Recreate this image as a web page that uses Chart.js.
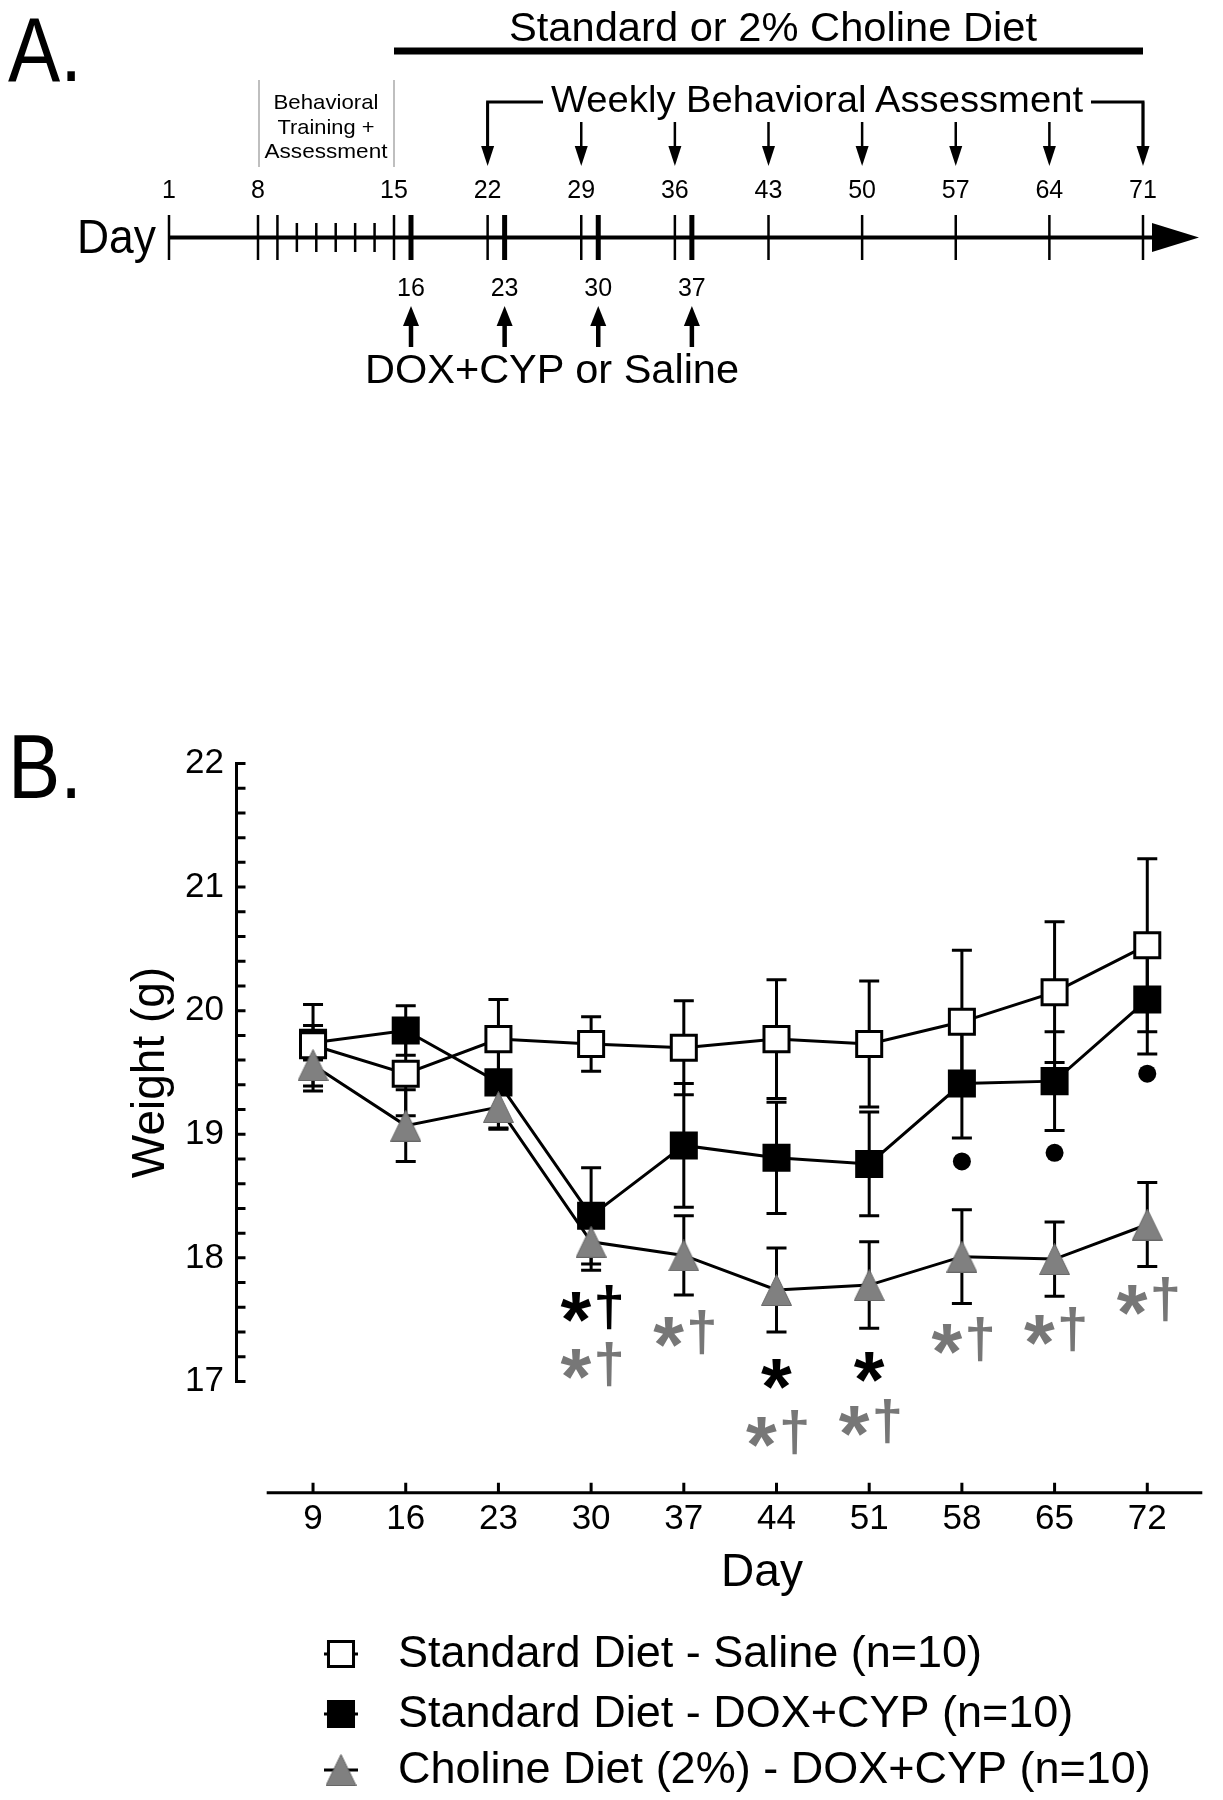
<!DOCTYPE html>
<html>
<head>
<meta charset="utf-8">
<title>Body weight</title>
<script src="https://cdn.jsdelivr.net/npm/chart.js@4.4.0/dist/chart.umd.min.js"></script>
<style>
  html, body { margin: 0; padding: 0; background: #fff; }
  #wrap { position: relative; width: 1223px; height: 1800px; }
  #chart { position: absolute; left: 0; top: 0; }
  #panelA { position: absolute; left: 0; top: 0; pointer-events: none; }
</style>
</head>
<body>
<div id="wrap">
  <canvas id="chart" width="1223" height="1800"></canvas>
  <svg id="panelA" width="1223" height="820" xmlns="http://www.w3.org/2000/svg"></svg>
</div>
<script>
// ---- panel B data ----
var days = [9, 16, 23, 30, 37, 44, 51, 58, 65, 72];
var salineMean = [19.72, 19.49, 19.77, 19.73, 19.70, 19.77, 19.73, 19.91, 20.15, 20.53];
var salineSem  = [0.33, 0.34, 0.32, 0.22, 0.38, 0.48, 0.51, 0.58, 0.57, 0.70];
var doxMean = [19.74, 19.84, 19.42, 18.34, 18.91, 18.81, 18.76, 19.41, 19.43, 20.09];
var doxSem  = [0.14, 0.20, 0.38, 0.39, 0.50, 0.45, 0.42, 0.44, 0.40, 0.44];
var cholMean = [19.56, 19.07, 19.22, 18.13, 18.02, 17.74, 17.78, 18.01, 17.99, 18.27];
var cholSem  = [0.21, 0.29, 0.17, 0.23, 0.32, 0.34, 0.35, 0.38, 0.30, 0.34];

var dotDays = [58, 65, 72];
var dotWeights = [18.78, 18.85, 19.49];

var starDays = [30, 30, 37, 44, 44, 51, 51, 58, 65, 72];
var starWeights = [17.60, 17.14, 17.40, 17.06, 16.59, 17.12, 16.68, 17.34, 17.42, 17.66];
var starMarks = ['*†', '*†', '*†', '*', '*†', '*', '*†', '*†', '*†', '*†'];
var starGroup = ['dox', 'chol', 'chol', 'dox', 'chol', 'dox', 'chol', 'chol', 'chol', 'chol'];

var yTicks = [17, 18, 19, 20, 21, 22];
var seriesLabels = ['Standard Diet - Saline (n=10)', 'Standard Diet - DOX+CYP (n=10)', 'Choline Diet (2%) - DOX+CYP (n=10)'];

// ---- panel A data (timeline) ----
var labeledDays = [1, 8, 15, 22, 29, 36, 43, 50, 57, 64, 71];
var tallTickDays = [1, 8, 9, 15, 22, 29, 36, 43, 50, 57, 64, 71];
var trainingDays = [10, 11, 12, 13, 14];
var injectionDays = [16, 23, 30, 37];
var assessDays = [22, 29, 36, 43, 50, 57, 64, 71];

var FONT = "'Liberation Sans', Arial, Helvetica, sans-serif";
var NARROW = "'Liberation Sans Narrow', 'Arial Narrow', 'Liberation Sans', Arial, sans-serif";
var GREY = '#808080';
var STAR_GREY = '#777777';

// ---------------- panel A (schematic) ----------------
var NS = 'http://www.w3.org/2000/svg';
var svg = document.getElementById('panelA');
function add(tag, attrs, text) {
  var e = document.createElementNS(NS, tag);
  for (var k in attrs) e.setAttribute(k, attrs[k]);
  if (text != null) e.textContent = text;
  svg.appendChild(e);
  return e;
}
function seg(x1, y1, x2, y2, w, c) {
  add('line', {x1: x1, y1: y1, x2: x2, y2: y2, stroke: c || '#000', 'stroke-width': w});
}
function txt(s, x, y, size, opts) {
  var a = {x: x, y: y, 'font-family': NARROW, 'font-size': size, fill: '#000'};
  for (var k in (opts || {})) a[k] = opts[k];
  return add('text', a, s);
}
// piecewise day -> x mapping of the schematic axis
var knotDays = [1, 8, 15, 71], knotPx = [169, 258, 394, 1143];
function dayX(d) {
  for (var i = 0; i < knotDays.length - 1; i++) {
    if (d <= knotDays[i + 1]) {
      return knotPx[i] + (d - knotDays[i]) * (knotPx[i + 1] - knotPx[i]) / (knotDays[i + 1] - knotDays[i]);
    }
  }
  return knotPx[knotPx.length - 1];
}
function injX(d) { return dayX(d - 1) + 17; }

txt('A.', 8, 81, 90, {textLength: 74, lengthAdjust: 'spacingAndGlyphs'});
txt('Standard or 2% Choline Diet', 509, 41, 41, {textLength: 528, lengthAdjust: 'spacingAndGlyphs'});
add('rect', {x: dayX(15), y: 47.5, width: dayX(71) - dayX(15), height: 7, fill: '#000'});

// training box
seg(dayX(8) + 1, 80, dayX(8) + 1, 167, 1.5, '#aaa');
seg(dayX(15), 80, dayX(15), 167, 1.5, '#aaa');
var boxC = (dayX(8) + dayX(15)) / 2;
txt('Behavioral', boxC, 109, 21, {'text-anchor': 'middle', textLength: 105, lengthAdjust: 'spacingAndGlyphs'});
txt('Training +', boxC, 134, 21, {'text-anchor': 'middle', textLength: 97, lengthAdjust: 'spacingAndGlyphs'});
txt('Assessment', boxC, 158, 21, {'text-anchor': 'middle', textLength: 123, lengthAdjust: 'spacingAndGlyphs'});

// weekly assessment bracket + arrows
txt('Weekly Behavioral Assessment', 551, 112, 36, {textLength: 532, lengthAdjust: 'spacingAndGlyphs'});
var firstA = dayX(assessDays[0]), lastA = dayX(assessDays[assessDays.length - 1]);
add('polyline', {points: firstA + ',150 ' + firstA + ',102 ' + 543 + ',102', fill: 'none', stroke: '#000', 'stroke-width': 3});
add('polyline', {points: 1091 + ',102 ' + lastA + ',102 ' + lastA + ',150', fill: 'none', stroke: '#000', 'stroke-width': 3});
assessDays.forEach(function (d, i) {
  var x = dayX(d);
  var top = (i === 0 || i === assessDays.length - 1) ? 102 : 122;
  seg(x, top, x, 152, 2.5);
  add('polygon', {points: (x - 6.5) + ',146 ' + x + ',166 ' + (x + 6.5) + ',146', fill: '#000'});
});

// day numbers
labeledDays.forEach(function (d) {
  txt(String(d), dayX(d), 198, 25, {'text-anchor': 'middle'});
});

// timeline
seg(dayX(1), 237.5, 1160, 237.5, 4);
add('polygon', {points: '1152,223 1199,237.5 1152,252', fill: '#000'});
tallTickDays.forEach(function (d) { seg(dayX(d), 215, dayX(d), 260, 2.5); });
trainingDays.forEach(function (d) { seg(dayX(d), 223, dayX(d), 252, 2.5); });
injectionDays.forEach(function (d) { seg(injX(d), 215, injX(d), 260, 5); });
txt('Day', 77, 253, 49, {textLength: 79, lengthAdjust: 'spacingAndGlyphs'});

// injections
injectionDays.forEach(function (d) {
  var x = injX(d);
  txt(String(d), x, 296, 25, {'text-anchor': 'middle'});
  seg(x, 322, x, 347, 4.5);
  add('polygon', {points: (x - 8) + ',326 ' + x + ',306 ' + (x + 8) + ',326', fill: '#000'});
});
txt('DOX+CYP or Saline', 365, 383, 40, {textLength: 374, lengthAdjust: 'spacingAndGlyphs'});

txt('B.', 8, 798, 90, {textLength: 74, lengthAdjust: 'spacingAndGlyphs'});

// ---------------- panel B (Chart.js) ----------------
function pairs(xs, ys) { return xs.map(function (x, i) { return {x: x, y: ys[i]}; }); }

// grey triangle symbol
var tri = document.createElement('canvas');
tri.width = 31; tri.height = 32;
(function () {
  var c = tri.getContext('2d');
  c.beginPath(); c.moveTo(15.5, 0.5); c.lineTo(30.5, 31.5); c.lineTo(0.5, 31.5); c.closePath();
  c.fillStyle = GREY; c.fill();
  c.strokeStyle = '#666'; c.lineWidth = 1; c.stroke();
})();

var errorBars = {
  id: 'errorBars',
  beforeDatasetsDraw: function (chart) {
    var ctx = chart.ctx, ys = chart.scales.y;
    ctx.save();
    ctx.strokeStyle = '#000';
    ctx.lineWidth = 3;
    chart.data.datasets.forEach(function (ds, i) {
      if (!ds.errors) return;
      chart.getDatasetMeta(i).data.forEach(function (pt, j) {
        var v = ds.data[j].y, e = ds.errors[j];
        var t = ys.getPixelForValue(v + e), b = ys.getPixelForValue(v - e);
        ctx.beginPath();
        ctx.moveTo(pt.x, t); ctx.lineTo(pt.x, b);
        ctx.moveTo(pt.x - 10, t); ctx.lineTo(pt.x + 10, t);
        ctx.moveTo(pt.x - 10, b); ctx.lineTo(pt.x + 10, b);
        ctx.stroke();
      });
    });
    ctx.restore();
  }
};

var axesDecor = {
  id: 'axesDecor',
  beforeDatasetsDraw: function (chart) {
    var ctx = chart.ctx, xs = chart.scales.x, ys = chart.scales.y, a = chart.chartArea;
    ctx.save();
    ctx.strokeStyle = '#000';
    ctx.lineWidth = 3;
    ctx.lineCap = 'butt';
    // y axis, only over the labelled range, ticks pointing inward
    var y0 = ys.getPixelForValue(yTicks[0]), y1 = ys.getPixelForValue(yTicks[yTicks.length - 1]);
    var ax = a.left + 1.5;
    ctx.beginPath();
    ctx.moveTo(ax, y0 + 1.5); ctx.lineTo(ax, y1 - 1.5);
    for (var v = yTicks[0]; v <= yTicks[yTicks.length - 1] + 1e-6; v += 0.2) {
      var py = ys.getPixelForValue(v);
      ctx.moveTo(ax, py); ctx.lineTo(ax + 9, py);
    }
    ctx.stroke();
    // x axis, ticks pointing up
    var by = a.bottom;
    ctx.beginPath();
    ctx.moveTo(xs.getPixelForValue(days[0] - 3.5), by);
    ctx.lineTo(a.right, by);
    days.forEach(function (d) {
      var px = xs.getPixelForValue(d);
      ctx.moveTo(px, by); ctx.lineTo(px, by - 10);
    });
    ctx.stroke();
    // axis titles
    ctx.fillStyle = '#000';
    ctx.font = '46px ' + FONT;
    ctx.textAlign = 'center';
    ctx.textBaseline = 'middle';
    ctx.fillText('Day', 762, 1573);
    ctx.save();
    ctx.translate(151, (y0 + y1) / 2);
    ctx.rotate(-Math.PI / 2);
    ctx.fillText('Weight (g)', 0, 0);
    ctx.restore();
    ctx.restore();
  }
};

function glyphBox(ctx, ch, weight, targetH) {
  ctx.font = weight + ' 100px ' + FONT;
  var m = ctx.measureText(ch);
  var size = 100 * targetH / (m.actualBoundingBoxAscent + m.actualBoundingBoxDescent);
  ctx.font = weight + ' ' + size + 'px ' + FONT;
  m = ctx.measureText(ch);
  return {size: size, left: m.actualBoundingBoxLeft, w: m.actualBoundingBoxLeft + m.actualBoundingBoxRight,
          asc: m.actualBoundingBoxAscent, desc: m.actualBoundingBoxDescent};
}
function drawGlyph(ctx, ch, weight, g, x, cy) {
  ctx.font = weight + ' ' + g.size + 'px ' + FONT;
  ctx.textAlign = 'left';
  ctx.textBaseline = 'alphabetic';
  ctx.fillText(ch, x + g.left, cy + (g.asc - g.desc) / 2);
}

var stars = {
  id: 'stars',
  afterDatasetsDraw: function (chart) {
    var ctx = chart.ctx, xs = chart.scales.x, ys = chart.scales.y;
    ctx.save();
    starDays.forEach(function (d, i) {
      var cx = xs.getPixelForValue(d), cy = ys.getPixelForValue(starWeights[i]);
      ctx.fillStyle = starGroup[i] === 'dox' ? '#000' : STAR_GREY;
      var ast = glyphBox(ctx, '*', 'bold', 30);
      if (starMarks[i].length === 1) {
        drawGlyph(ctx, '*', 'bold', ast, cx - ast.w / 2, cy);
        return;
      }
      var dag = glyphBox(ctx, '†', 'bold', 45);
      var gap = 5, total = ast.w + gap + dag.w, x0 = cx - total / 2;
      drawGlyph(ctx, '*', 'bold', ast, x0, cy);
      drawGlyph(ctx, '†', 'bold', dag, x0 + ast.w + gap, cy);
    });
    ctx.restore();
  }
};

var legendRows = [1654, 1714, 1770];
var customLegend = {
  id: 'customLegend',
  afterDraw: function (chart) {
    var ctx = chart.ctx;
    ctx.save();
    seriesLabels.forEach(function (label, i) {
      var ds = chart.data.datasets[i], y = legendRows[i], x = 341;
      ctx.strokeStyle = '#000';
      ctx.lineWidth = 3;
      ctx.beginPath(); ctx.moveTo(x - 17, y); ctx.lineTo(x + 17, y); ctx.stroke();
      ctx.fillStyle = ds.pointBackgroundColor;
      ctx.strokeStyle = ds.pointBorderColor;
      ctx.lineWidth = ds.pointBorderWidth;
      Chart.helpers.drawPoint(ctx, {pointStyle: ds.pointStyle, radius: ds.pointRadius, borderWidth: ds.pointBorderWidth, rotation: 0}, x, y);
      ctx.fillStyle = '#000';
      ctx.font = '45px ' + FONT;
      ctx.textAlign = 'left';
      ctx.textBaseline = 'middle';
      ctx.fillText(label, 398, y + 1);
    });
    ctx.restore();
  }
};

var lineBase = {type: 'line', borderColor: '#000', borderWidth: 3, tension: 0, fill: false};
function series(extra) { var o = {}; for (var k in lineBase) o[k] = lineBase[k]; for (var k2 in extra) o[k2] = extra[k2]; return o; }

new Chart(document.getElementById('chart'), {
  type: 'line',
  data: {
    datasets: [
      series({label: seriesLabels[0], data: pairs(days, salineMean), errors: salineSem, order: 1,
        pointStyle: 'rect', pointRadius: 17.7, pointBackgroundColor: '#fff', pointBorderColor: '#000', pointBorderWidth: 3}),
      series({label: seriesLabels[1], data: pairs(days, doxMean), errors: doxSem, order: 2,
        pointStyle: 'rect', pointRadius: 17.7, pointBackgroundColor: '#000', pointBorderColor: '#000', pointBorderWidth: 3}),
      series({label: seriesLabels[2], data: pairs(days, cholMean), errors: cholSem, order: 0,
        pointStyle: tri, pointRadius: 15, pointBackgroundColor: GREY, pointBorderColor: '#666', pointBorderWidth: 0}),
      {type: 'scatter', label: 'vs saline', data: pairs(dotDays, dotWeights), order: -1, showLine: false,
        pointStyle: 'circle', pointRadius: 9, pointBackgroundColor: '#000', pointBorderWidth: 0}
    ]
  },
  options: {
    responsive: false,
    animation: false,
    events: [],
    layout: {padding: {top: 763.5, left: 0, right: 0, bottom: 0}},
    plugins: {legend: {display: false}, tooltip: {enabled: false}},
    scales: {
      x: {
        type: 'linear', min: 3.107, max: 76.155,
        afterBuildTicks: function (s) { s.ticks = days.map(function (v) { return {value: v}; }); },
        afterFit: function (s) { s.height = 307.3; },
        grid: {display: false, drawTicks: false},
        border: {display: false},
        ticks: {padding: 6, color: '#000', font: {family: FONT, size: 35}, maxRotation: 0, autoSkip: false}
      },
      y: {
        type: 'linear', min: 16.1, max: 22,
        afterBuildTicks: function (s) { s.ticks = yTicks.map(function (v) { return {value: v}; }); },
        afterFit: function (s) { s.width = 235; },
        grid: {display: false, drawTicks: false},
        border: {display: false},
        ticks: {padding: 11, color: '#000', font: {family: FONT, size: 35}}
      }
    }
  },
  plugins: [axesDecor, errorBars, stars, customLegend]
});
</script>
</body>
</html>
